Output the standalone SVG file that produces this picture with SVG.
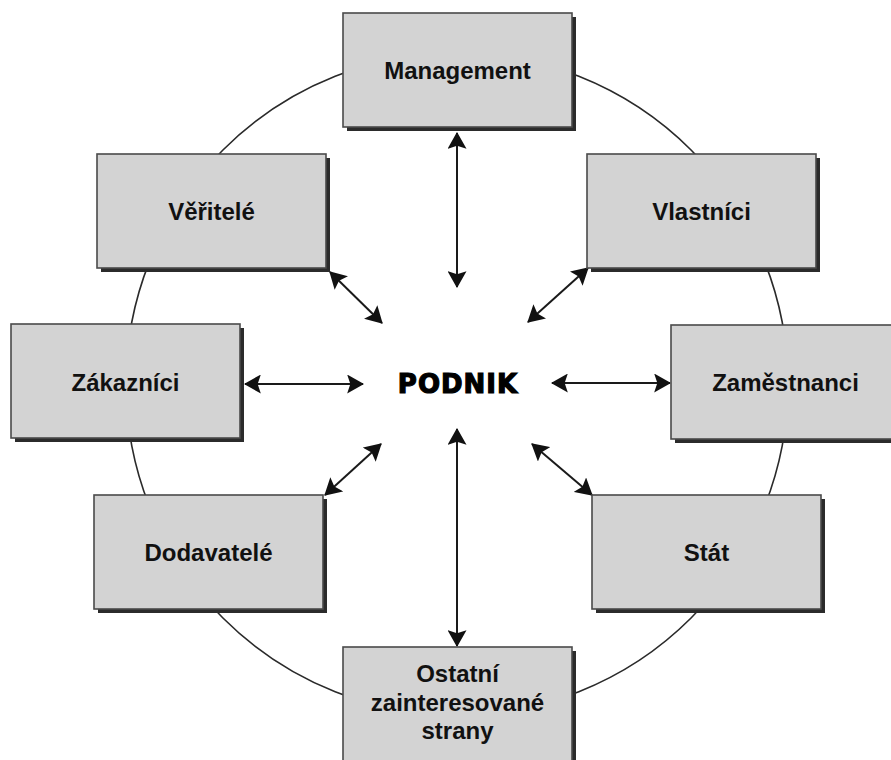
<svg xmlns="http://www.w3.org/2000/svg" width="891" height="760" viewBox="0 0 891 760">
<defs>
<style>
.shadow{fill:#2b2b2b}
.box{fill:#d3d3d3;stroke:#4a4a4a;stroke-width:1.6}
.lbl{font-family:"Liberation Sans",Arial,sans-serif;font-weight:bold;font-size:24px;fill:#111;text-anchor:middle}
.conn{stroke:#1a1a1a;stroke-width:2;fill:none;marker-start:url(#ah);marker-end:url(#ah)}
</style>
<marker id="ah" viewBox="0 0 16 18" refX="15" refY="9" markerWidth="17" markerHeight="19" markerUnits="userSpaceOnUse" orient="auto-start-reverse">
<path d="M0,0 L16,9 L0,18 L3,9 Z" fill="#111"/>
</marker>
</defs>
<rect width="891" height="760" fill="#fff"/>
<circle cx="457" cy="384" r="331" fill="none" stroke="#2a2a2a" stroke-width="1.6"/>
<g id="connectors">
<line class="conn" x1="457" y1="133" x2="457" y2="287"/>
<line class="conn" x1="457" y1="429" x2="457" y2="646"/>
<line class="conn" x1="245" y1="384" x2="363" y2="384"/>
<line class="conn" x1="552" y1="383" x2="670" y2="383"/>
<line class="conn" x1="330" y1="272" x2="382" y2="323"/>
<line class="conn" x1="528" y1="322" x2="588" y2="268"/>
<line class="conn" x1="381" y1="444" x2="325" y2="495"/>
<line class="conn" x1="532" y1="444" x2="592" y2="495"/>
</g>
<g id="management">
<rect class="shadow" x="347" y="17" width="229" height="114"/>
<rect class="box" x="343" y="13" width="229" height="114"/>
<text class="lbl" x="457.5" y="79">Management</text>
</g>
<g id="veritele">
<rect class="shadow" x="101" y="158" width="229" height="114"/>
<rect class="box" x="97" y="154" width="229" height="114"/>
<text class="lbl" x="211.5" y="220">Věřitelé</text>
</g>
<g id="vlastnici">
<rect class="shadow" x="591" y="158" width="229" height="114"/>
<rect class="box" x="587" y="154" width="229" height="114"/>
<text class="lbl" x="701.5" y="220">Vlastníci</text>
</g>
<g id="zakaznici">
<rect class="shadow" x="15" y="328" width="229" height="114"/>
<rect class="box" x="11" y="324" width="229" height="114"/>
<text class="lbl" x="125.5" y="391">Zákazníci</text>
</g>
<g id="podnik">
<text x="458" y="393" font-family="DejaVu Sans, Verdana, sans-serif" font-weight="bold" font-size="26" letter-spacing="1" text-anchor="middle" fill="#000" stroke="#000" stroke-width="1.2">PODNIK</text>
</g>
<g id="zamestnanci">
<rect class="shadow" x="675" y="329" width="229" height="114"/>
<rect class="box" x="671" y="325" width="229" height="114"/>
<text class="lbl" x="785.5" y="391">Zaměstnanci</text>
</g>
<g id="dodavatele">
<rect class="shadow" x="98" y="499" width="229" height="114"/>
<rect class="box" x="94" y="495" width="229" height="114"/>
<text class="lbl" x="208.5" y="561">Dodavatelé</text>
</g>
<g id="stat">
<rect class="shadow" x="596" y="499" width="229" height="114"/>
<rect class="box" x="592" y="495" width="229" height="114"/>
<text class="lbl" x="706.5" y="561">Stát</text>
</g>
<g id="ostatni">
<rect class="shadow" x="347" y="651" width="229" height="114"/>
<rect class="box" x="343" y="647" width="229" height="114"/>
<text class="lbl" x="457.5" y="682">Ostatní</text>
<text class="lbl" x="457.5" y="711">zainteresované</text>
<text class="lbl" x="457.5" y="739">strany</text>
</g>
</svg>
